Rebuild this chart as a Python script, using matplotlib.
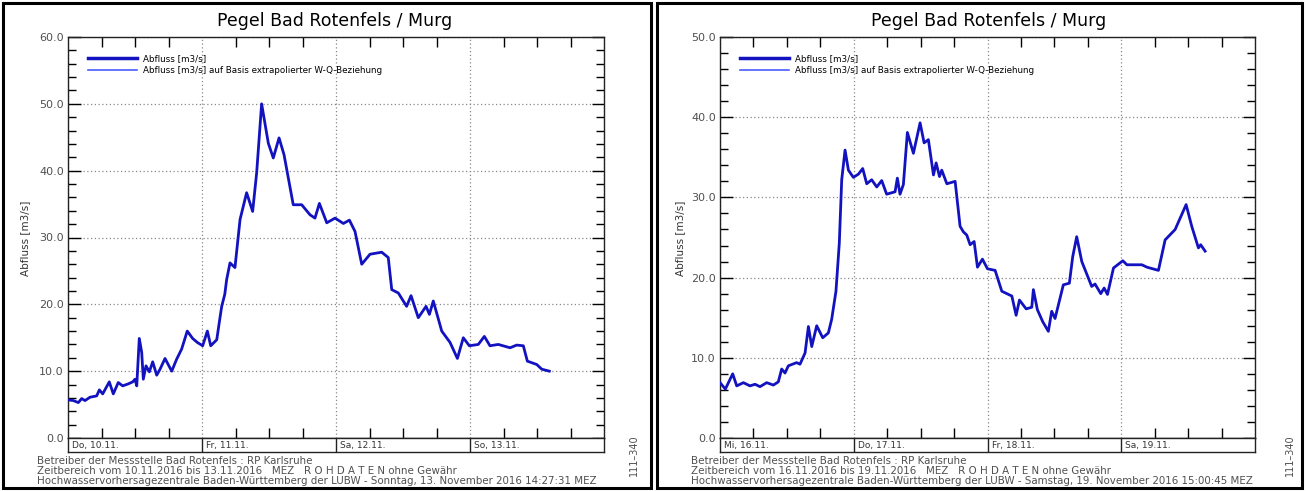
import matplotlib
matplotlib.use("Agg")
import matplotlib.pyplot as plt
from matplotlib.patches import Rectangle
from matplotlib.lines import Line2D
from matplotlib.ticker import MultipleLocator, FormatStrFormatter

# ---------------- data ----------------
title = "Pegel Bad Rotenfels / Murg"
ylabel = "Abfluss [m3/s]"
legend_labels = ["Abfluss [m3/s]", "Abfluss [m3/s] auf Basis extrapolierter W-Q-Beziehung"]

# left chart: days since 10.11.2016 00:00
left_days = ["Do, 10.11.", "Fr, 11.11.", "Sa, 12.11.", "So, 13.11."]
left_t = [0.00, 0.04, 0.077, 0.102, 0.127, 0.164, 0.214, 0.234, 0.259, 0.308, 0.338, 0.375,
          0.408, 0.45, 0.483, 0.50, 0.513, 0.532, 0.55, 0.562, 0.582, 0.607, 0.632, 0.662,
          0.687, 0.724, 0.774, 0.811, 0.848, 0.89, 0.93, 0.965, 1.005, 1.04, 1.065, 1.11,
          1.129, 1.147, 1.17, 1.184, 1.209, 1.246, 1.284, 1.333, 1.378, 1.408, 1.445, 1.495,
          1.532, 1.575, 1.612, 1.681, 1.744, 1.806, 1.843, 1.876, 1.931, 1.993, 2.055, 2.10,
          2.142, 2.192, 2.254, 2.341, 2.39, 2.416, 2.465, 2.527, 2.56, 2.614, 2.672, 2.697,
          2.726, 2.789, 2.851, 2.906, 2.95, 2.995, 3.062, 3.107, 3.149, 3.211, 3.299, 3.348,
          3.398, 3.428, 3.498, 3.535, 3.592]
left_q = [5.7, 5.6, 5.3, 5.9, 5.6, 6.1, 6.3, 7.2, 6.6, 8.4, 6.6, 8.3,
          7.8, 8.1, 8.4, 8.8, 7.8, 14.9, 12.8, 8.8, 10.8, 9.9, 11.4, 9.4,
          10.3, 11.9, 10.0, 11.8, 13.3, 16.0, 14.9, 14.3, 13.8, 16.0, 13.8, 14.7,
          17.3, 19.7, 21.5, 23.7, 26.2, 25.5, 32.7, 36.7, 33.9, 39.7, 50.0, 44.1,
          41.9, 44.9, 42.4, 34.9, 34.9, 33.4, 32.9, 35.1, 32.2, 32.9, 32.1, 32.6,
          30.9, 26.0, 27.5, 27.8, 27.0, 22.2, 21.7, 19.7, 21.3, 18.0, 19.7, 18.5,
          20.5, 16.0, 14.3, 11.9, 15.0, 13.8, 14.0, 15.2, 13.8, 14.0, 13.5, 13.9,
          13.8, 11.5, 11.0, 10.3, 10.0]
left_footer = ["Betreiber der Messstelle Bad Rotenfels : RP Karlsruhe",
               "Zeitbereich vom 10.11.2016 bis 13.11.2016   MEZ   R O H D A T E N ohne Gewähr",
               "Hochwasservorhersagezentrale Baden-Württemberg der LUBW - Sonntag, 13. November 2016 14:27:31 MEZ"]

# right chart: days since 16.11.2016 00:00
right_days = ["Mi, 16.11.", "Do, 17.11.", "Fr, 18.11.", "Sa, 19.11."]
right_t = [0.00, 0.04, 0.095, 0.125, 0.175, 0.224, 0.262, 0.299, 0.349, 0.399, 0.436, 0.461,
           0.486, 0.511, 0.573, 0.598, 0.636, 0.661, 0.686, 0.723, 0.768, 0.81, 0.835, 0.867,
           0.892, 0.91, 0.935, 0.96, 0.997, 1.035, 1.067, 1.097, 1.134, 1.172, 1.209, 1.246,
           1.309, 1.326, 1.346, 1.371, 1.401, 1.446, 1.496, 1.526, 1.558, 1.596, 1.616, 1.641,
           1.658, 1.696, 1.758, 1.795, 1.82, 1.845, 1.87, 1.9, 1.925, 1.962, 2.0, 2.057,
           2.107, 2.182, 2.214, 2.239, 2.289, 2.331, 2.343, 2.373, 2.413, 2.455, 2.48, 2.505,
           2.567, 2.612, 2.637, 2.667, 2.705, 2.779, 2.804, 2.847, 2.872, 2.897, 2.942, 3.012,
           3.042, 3.154, 3.192, 3.278, 3.328, 3.403, 3.44, 3.485, 3.527, 3.577, 3.594, 3.627]
right_q = [6.9, 6.1, 8.0, 6.5, 6.9, 6.5, 6.7, 6.4, 6.9, 6.6, 7.0, 8.6,
           8.1, 9.0, 9.4, 9.2, 10.6, 13.9, 11.4, 14.0, 12.5, 13.1, 14.8, 18.3,
           24.3, 32.2, 35.9, 33.4, 32.5, 32.9, 33.6, 31.7, 32.2, 31.3, 32.1, 30.4,
           30.7, 32.4, 30.4, 31.6, 38.1, 35.5, 39.3, 36.8, 37.2, 32.8, 34.3, 32.6,
           33.4, 31.7, 32.0, 26.4, 25.7, 25.3, 24.1, 24.5, 21.3, 22.3, 21.1, 20.9,
           18.3, 17.7, 15.3, 17.2, 16.1, 16.3, 18.5, 16.0, 14.5, 13.3, 15.8, 14.9,
           19.1, 19.3, 22.6, 25.1, 22.0, 18.9, 19.2, 18.0, 18.7, 17.9, 21.2, 22.1,
           21.6, 21.6, 21.3, 20.9, 24.7, 26.0, 27.4, 29.1, 26.4, 23.7, 24.1, 23.3]
right_footer = ["Betreiber der Messstelle Bad Rotenfels : RP Karlsruhe",
                "Zeitbereich vom 16.11.2016 bis 19.11.2016   MEZ   R O H D A T E N ohne Gewähr",
                "Hochwasservorhersagezentrale Baden-Württemberg der LUBW - Samstag, 19. November 2016 15:00:45 MEZ"]
side_code = "111\u2013340"

# ---------------- layout ----------------
W, H = 1307, 491
fig = plt.figure(figsize=(W / 100, H / 100), dpi=100)
fig.patch.set_facecolor("white")

def fx(px):
    return px / W

def fy(py):
    return 1 - py / H

LINE_COLOR = "#1212c0"
LEG2_COLOR = "#4a5cff"
TXT_GREY = "#505050"


def panel(frame_x0, frame_x1, ax_x0, ax_x1, ymax, t, q, days, footer, title_x, code_x, ylab_x):
    # frame
    fig.add_artist(Rectangle((fx(frame_x0), fy(488)), fx(frame_x1 - frame_x0), (488 - 3) / H,
                             transform=fig.transFigure, fill=False, lw=2.2, ec="black"))
    top_px, bot_px = 37, 438
    ax = fig.add_axes([fx(ax_x0), fy(bot_px), fx(ax_x1 - ax_x0), (bot_px - top_px) / H])
    ax.plot(t, q, color=LINE_COLOR, lw=2.0, solid_joinstyle="round", zorder=3)
    ax.plot([], [], color=LEG2_COLOR, lw=1.2)
    ax.set_xlim(0, 4)
    ax.set_ylim(0, ymax)
    ax.xaxis.set_major_locator(MultipleLocator(1))
    ax.xaxis.set_minor_locator(MultipleLocator(0.25))
    ax.yaxis.set_major_locator(MultipleLocator(10))
    ax.yaxis.set_minor_locator(MultipleLocator(2))
    ax.yaxis.set_major_formatter(FormatStrFormatter("%.1f"))
    ax.tick_params(axis="y", which="both", direction="in", left=True, right=True,
                   labelsize=8, labelcolor=TXT_GREY, pad=3, width=1)
    ax.tick_params(axis="y", which="major", length=9)
    ax.tick_params(axis="y", which="minor", length=6)
    ax.tick_params(axis="x", which="both", direction="in", top=True, bottom=True,
                   labelbottom=False, width=1)
    ax.tick_params(axis="x", which="major", length=0)
    ax.tick_params(axis="x", which="minor", length=7)
    for s in ax.spines.values():
        s.set_linewidth(1.0)
        s.set_color("#222222")
    ax.grid(True, which="major", axis="both", linestyle=(0, (1, 2)), color="#888888", lw=0.9)
    handles = [Line2D([], [], color=LINE_COLOR, lw=2.5), Line2D([], [], color=LEG2_COLOR, lw=1.2)]
    ax.legend(handles, legend_labels, loc="upper left",
              bbox_to_anchor=(16 / (ax_x1 - ax_x0), 1 - 14 / (bot_px - top_px)),
              borderaxespad=0, frameon=False, fontsize=6.3, handlelength=5.6,
              handletextpad=0.7, labelspacing=0.25)

    # date strip
    ax2 = fig.add_axes([fx(ax_x0), fy(452), fx(ax_x1 - ax_x0), (452 - bot_px) / H])
    ax2.set_xlim(0, 4)
    ax2.set_ylim(0, 1)
    ax2.set_xticks([])
    ax2.set_yticks([])
    for s in ax2.spines.values():
        s.set_linewidth(1.0)
        s.set_color("#222222")
    for i, d in enumerate(days):
        if i > 0:
            ax2.axvline(i, color="#222222", lw=1.0)
        ax2.text(i + 0.03, 0.45, d, fontsize=6.5, color="#333333", va="center", ha="left")

    fig.text(fx(title_x), fy(21), title, ha="center", va="center", fontsize=12.5, color="black")
    fig.text(fx(ylab_x), fy(238), ylabel, ha="center", va="center", rotation=90,
             fontsize=7.5, color="#333333")
    for k, line in enumerate(footer):
        fig.text(fx(frame_x0 + 34), fy(461.5 + 10 * k), line, ha="left", va="center",
                 fontsize=7.4, color=TXT_GREY)
    fig.text(fx(code_x), fy(455), side_code, ha="center", va="center", rotation=90,
             fontsize=7, color=TXT_GREY)
    return ax


panel(3, 651, 68, 604, 60, left_t, left_q, left_days, left_footer, 335, 634, 25)
panel(657, 1302, 720, 1255, 50, right_t, right_q, right_days, right_footer, 989, 1290, 680)

fig.savefig("out.png", dpi=100)
